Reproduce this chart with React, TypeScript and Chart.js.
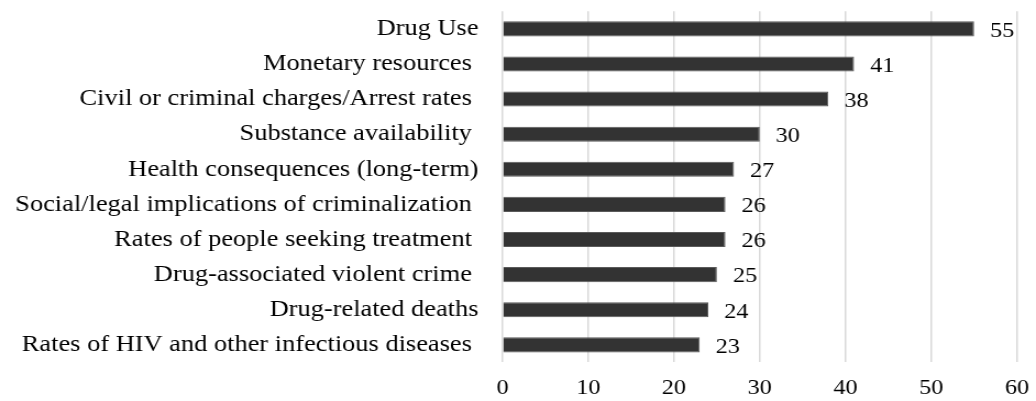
import React, { useEffect, useRef } from "react";
import { Chart, registerables } from "chart.js";

Chart.register(...registerables);

const categories = [
  "Drug Use",
  "Monetary resources ",
  "Civil or criminal charges/Arrest rates ",
  "Substance availability ",
  "Health consequences (long-term)",
  "Social/legal implications of criminalization ",
  "Rates of people seeking treatment ",
  "Drug-associated violent crime ",
  "Drug-related deaths",
  "Rates of HIV and other infectious diseases ",
];
const values = [55, 41, 38, 30, 27, 26, 26, 25, 24, 23];
const xTicks = [0, 10, 20, 30, 40, 50, 60];

const FONT = "'Liberation Serif', 'Times New Roman', serif";
const LABEL_SIZE = 24;
const NUM_SIZE = 22;
// the reference is stretched horizontally; render narrower and stretch with CSS
const STRETCH = 1.1;
const OUT_W = 1036;
const OUT_H = 401;
const W = Math.round(OUT_W / STRETCH);
const SX = OUT_W / W;

const valueLabels = {
  id: "valueLabels",
  afterDatasetsDraw(chart: any) {
    const ctx = chart.ctx;
    const meta = chart.getDatasetMeta(0);
    ctx.save();
    ctx.font = `${NUM_SIZE}px ${FONT}`;
    ctx.fillStyle = "#000000";
    ctx.textAlign = "left";
    ctx.textBaseline = "middle";
    meta.data.forEach((bar: any, i: number) => {
      ctx.fillText(String(values[i]), bar.x + 16 / SX, bar.y + 2);
    });
    ctx.restore();
  },
};

export default function App() {
  const ref = useRef<HTMLCanvasElement | null>(null);
  useEffect(() => {
    if (!ref.current) return;
    const chart = new Chart(ref.current, {
      type: "bar",
      data: {
        labels: categories,
        datasets: [
          {
            data: values,
            backgroundColor: "#333333",
            borderColor: "#5a5a5a",
            borderWidth: 1,
            categoryPercentage: 1,
            barPercentage: 0.43,
          },
        ],
      },
      options: {
        indexAxis: "y",
        responsive: false,
        animation: false,
        devicePixelRatio: 1,
        layout: { padding: { top: 11.3, right: W - 1017 / SX, bottom: 0, left: 0 } },
        plugins: { legend: { display: false }, tooltip: { enabled: false } },
        scales: {
          x: {
            min: 0,
            max: 60,
            afterBuildTicks: (scale: any) => {
              scale.ticks = xTicks.map((v) => ({ value: v }));
            },
            afterFit: (scale: any) => {
              scale.height = 38.6;
              scale.paddingLeft = 0;
              scale.paddingRight = 0;
            },
            grid: { color: "#d9d9d9", lineWidth: 1.5, drawTicks: false },
            border: { display: false },
            ticks: {
              padding: 13,
              color: "#000000",
              font: { family: FONT, size: NUM_SIZE },
            },
          },
          y: {
            afterFit: (scale: any) => {
              scale.width = 502.5 / SX;
              scale.paddingTop = 0;
              scale.paddingBottom = 0;
            },
            grid: { display: false, drawTicks: false },
            border: { display: false },
            ticks: {
              padding: 24 / SX,
              color: "#000000",
              autoSkip: false,
              font: { family: FONT, size: LABEL_SIZE },
            },
          },
        },
      },
      plugins: [valueLabels],
    });
    return () => chart.destroy();
  }, []);
  return (
    <div style={{ position: "absolute", left: 0, top: 0, width: OUT_W, height: OUT_H, background: "#ffffff", overflow: "hidden" }}>
      <canvas
        ref={ref}
        width={W}
        height={OUT_H}
        style={{ width: OUT_W + "px", height: OUT_H + "px", display: "block" }}
      />
    </div>
  );
}
